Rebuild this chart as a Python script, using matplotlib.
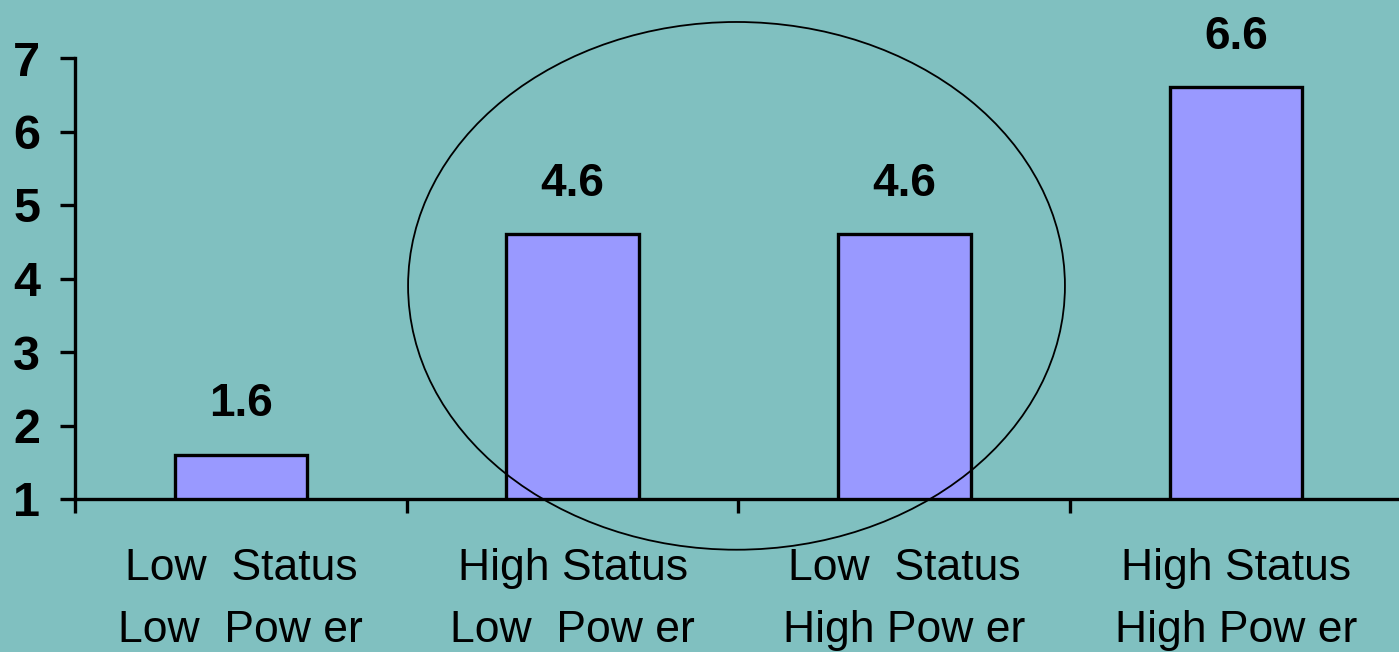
import matplotlib
matplotlib.use("Agg")
import matplotlib.pyplot as plt
from matplotlib.patches import Ellipse

plt.rcParams['font.family'] = ['Liberation Sans', 'DejaVu Sans']

groups = ["Low  Status\nLow  Pow er", "High Status\nLow  Pow er",
          "Low  Status\nHigh Pow er", "High Status\nHigh Pow er"]
scores = [1.6, 4.6, 4.6, 6.6]
y_ticks = [1, 2, 3, 4, 5, 6, 7]

bg = "#80C0C0"
fig = plt.figure(figsize=(13.99, 6.52), dpi=100, facecolor=bg)
ax = fig.add_axes([75/1399, 1 - 499/652, 1327/1399, 441/652], facecolor=bg)

pos = list(range(len(scores)))
ax.bar(pos, [s - 1 for s in scores], bottom=1, width=0.4,
       color="#9999FF", edgecolor="black", linewidth=2.4, zorder=3)

for x, s in zip(pos, scores):
    ax.annotate(f"{s:.1f}", (x, s), xytext=(0, 28), textcoords="offset points",
                ha="center", va="baseline", fontsize=33, fontweight="bold")

ax.set_xlim(-0.5, len(scores) - 0.5)
ax.set_ylim(1, 7)

# group boundaries carry the tick marks, centres carry the labels
ax.set_xticks([p - 0.5 for p in pos] + [len(pos) - 0.5])
ax.set_xticklabels([])
ax.set_xticks(pos, minor=True)
ax.set_xticklabels(groups, minor=True, fontsize=32, linespacing=1.68)
ax.tick_params(axis="x", which="major", direction="out", length=10, width=2.4)
ax.tick_params(axis="x", which="minor", length=0, pad=35)

ax.set_yticks(y_ticks)
ax.set_yticklabels([str(t) for t in y_ticks], fontsize=35, fontweight="bold")
ax.tick_params(axis="y", direction="out", length=11, width=2.4, pad=14)

for side in ("top", "right"):
    ax.spines[side].set_visible(False)
for side in ("left", "bottom"):
    ax.spines[side].set_linewidth(2.4)

# ring round the two middle groups
ax.add_patch(Ellipse((1.494, 3.9), 1.98, 7.18, fill=False, edgecolor="black",
                     linewidth=1.3, clip_on=False, zorder=4))

fig.savefig("out.png", dpi=100, facecolor=bg)
